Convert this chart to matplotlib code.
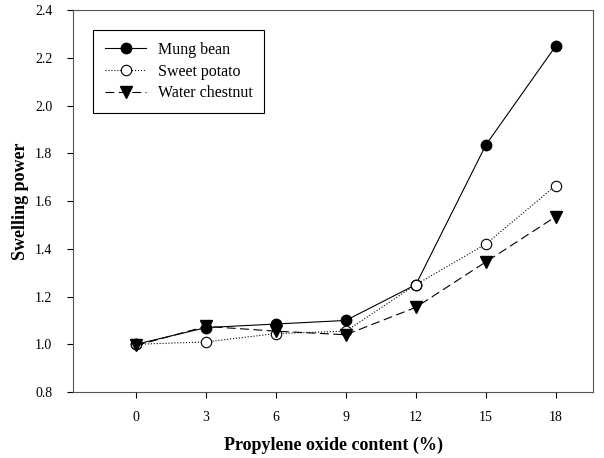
import matplotlib.pyplot as plt

plt.rcParams['font.family'] = ['Liberation Serif', 'DejaVu Serif']

content = [0, 3, 6, 9, 12, 15, 18]
mung_bean = [1.00, 1.07, 1.085, 1.10, 1.25, 1.835, 2.25]
sweet_potato = [1.00, 1.01, 1.045, 1.055, 1.25, 1.42, 1.665]
water_chestnut = [0.995, 1.075, 1.055, 1.04, 1.155, 1.345, 1.535]

fig = plt.figure(figsize=(6.04, 4.58), dpi=100)
ax = fig.add_axes([0.121, 0.144, 0.861, 0.834])

ax.plot(content, mung_bean, color='black', lw=0.8, marker='o', ms=7.5,
        mfc='black', mec='black', label='Mung bean')
ax.plot(content, sweet_potato, color='black', lw=0.8, ls=':', marker='o', ms=7.5,
        mfc='white', mec='black', mew=0.8, label='Sweet potato')
ax.plot(content, water_chestnut, color='black', lw=0.8, ls=(0, (8, 4)), marker='v',
        ms=8.5, mfc='black', mec='black', label='Water chestnut')

ax.set_xlim(-2.7, 19.6)
ax.set_ylim(0.8, 2.4)
ax.set_xticks(content)
ax.set_yticks([0.8, 1.0, 1.2, 1.4, 1.6, 1.8, 2.0, 2.2, 2.4])
ax.set_yticklabels(['0.8', '1.0', '1.2', '1.4', '1.6', '1.8', '2.0', '2.2', '2.4'])
ax.tick_params(direction='out', length=4, width=0.8, labelsize=10)
ax.tick_params(axis='x', pad=10)
ax.tick_params(axis='y', pad=11)
for s in ax.spines.values():
    s.set_linewidth(0.8)
    s.set_color('#555555')

ax.set_xlabel('Propylene oxide content (%)', fontsize=13, fontweight='bold', labelpad=9)
ax.set_ylabel('Swelling power', fontsize=13, fontweight='bold', labelpad=4)

leg = ax.legend(loc='upper left', bbox_to_anchor=(0.038, 0.948), borderaxespad=0,
                fancybox=False, edgecolor='black', framealpha=1, fontsize=11.5,
                handlelength=2.6, handletextpad=0.7, borderpad=0.75,
                labelspacing=0.35)
leg.get_frame().set_linewidth(0.8)

fig.savefig('out.png', dpi=100)
